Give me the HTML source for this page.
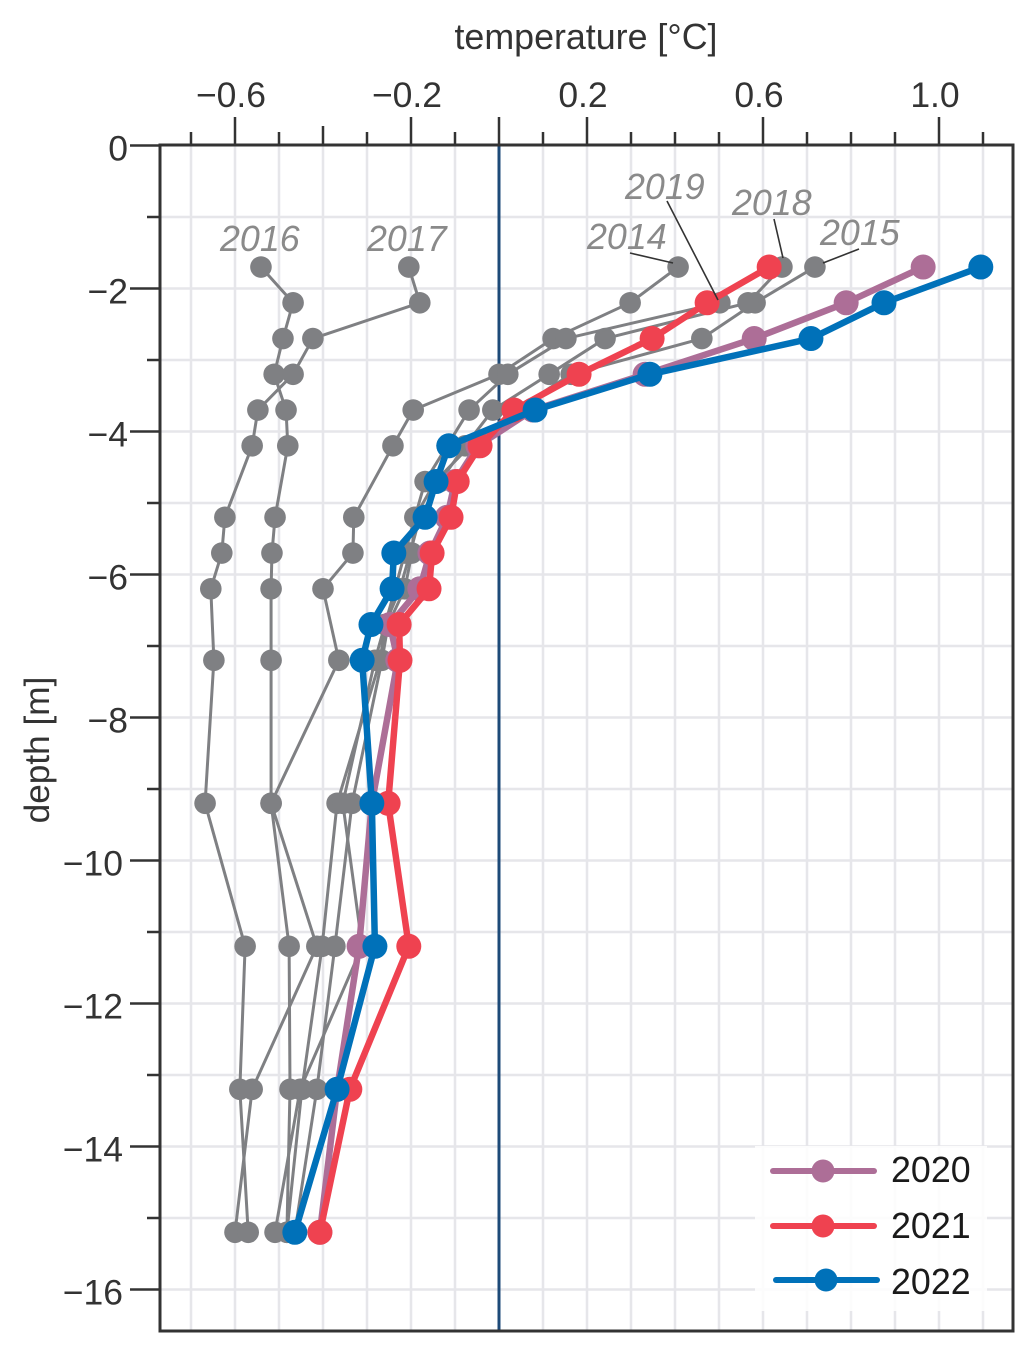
<!DOCTYPE html>
<html>
<head>
<meta charset="utf-8">
<title>Temperature by depth</title>
<style>
html,body{margin:0;padding:0;background:#fff}
svg{display:block}
text{font-family:"Liberation Sans",sans-serif}
</style>
</head>
<body>
<svg id="chart" xmlns="http://www.w3.org/2000/svg" width="1033" height="1353" viewBox="0 0 1033 1353">
  <rect x="0" y="0" width="1033" height="1353" fill="#fff"/>
  <g id="grid"></g>
  <line id="zero" stroke="#1d4a78" stroke-width="3"/>
  <g id="series"></g>
  <g id="axes"></g>
  <text x="586" y="49" text-anchor="middle" font-size="35.8" fill="#333">temperature [°C]</text>
  <text transform="translate(49,750) rotate(-90)" text-anchor="middle" font-size="35.2" fill="#333">depth [m]</text>
  <g font-size="35.8" font-style="italic" fill="#8a8a8a">
    <text x="220" y="251">2016</text>
    <text x="367" y="251">2017</text>
    <text x="587" y="249">2014</text>
    <text x="625" y="199">2019</text>
    <text x="732" y="215">2018</text>
    <text x="820" y="245">2015</text>
  </g>
  <g stroke="#333" stroke-width="1.6">
    <line x1="630" y1="253" x2="673" y2="263"/>
    <line x1="667" y1="201" x2="718" y2="300"/>
    <line x1="774" y1="219" x2="783" y2="258"/>
    <line x1="859" y1="249" x2="823" y2="263"/>
  </g>
  <g>
    <rect x="755" y="1146" width="232" height="165" fill="#fff" fill-opacity="0.85"/>
    <g>
      <line x1="773" y1="1171" x2="874" y2="1171" stroke="#ad6e97" stroke-width="6" stroke-linecap="round"/>
      <circle cx="823" cy="1171" r="11.5" fill="#ad6e97"/>
      <text x="891" y="1182" font-size="35.8" fill="#1a1a1a">2020</text>
    </g>
    <g>
      <line x1="773" y1="1226" x2="874" y2="1226" stroke="#ef4250" stroke-width="6" stroke-linecap="round"/>
      <circle cx="823" cy="1226" r="11.5" fill="#ef4250"/>
      <text x="891" y="1238" font-size="35.8" fill="#1a1a1a">2021</text>
    </g>
    <g>
      <line x1="776" y1="1280" x2="877" y2="1280" stroke="#0071b9" stroke-width="6" stroke-linecap="round"/>
      <circle cx="826" cy="1280" r="11.5" fill="#0071b9"/>
      <text x="891" y="1294" font-size="35.8" fill="#1a1a1a">2022</text>
    </g>
  </g>
</svg>
<script>
// Depth of each sensor level [m]
const depths = [1.7, 2.2, 2.7, 3.2, 3.7, 4.2, 4.7, 5.2, 5.7, 6.2, 6.7, 7.2, 9.2, 11.2, 13.2, 15.2];
// Temperature [deg C] per year at each depth (null = no reading)
const temps2014 = [0.407, 0.298, 0.123, 0.000, -0.195, -0.241, null, -0.330, -0.332, -0.400, null, -0.364, -0.518, -0.414, -0.561, -0.600];
const temps2015 = [0.718, 0.582, 0.461, 0.164, 0.036, -0.066, -0.145, -0.191, -0.214, -0.236, -0.259, -0.270, -0.368, -0.402, -0.448, -0.482];
const temps2016 = [-0.541, -0.468, -0.491, -0.511, -0.484, -0.480, null, -0.509, -0.516, -0.518, null, -0.518, -0.518, -0.477, -0.475, -0.482];
const temps2017 = [-0.205, -0.180, -0.423, -0.468, -0.548, -0.561, null, -0.623, -0.630, -0.655, null, -0.648, -0.668, -0.577, -0.589, -0.570];
const temps2018 = [0.643, 0.566, 0.241, 0.114, -0.014, -0.077, -0.134, -0.180, -0.202, -0.225, -0.259, -0.282, -0.355, -0.311, -0.452, -0.509];
const temps2019 = [null, 0.502, 0.152, 0.020, -0.068, -0.118, -0.168, -0.191, -0.198, -0.214, -0.252, -0.266, -0.334, -0.373, -0.414, -0.464];
const temps2020 = [0.964, 0.789, 0.580, 0.332, 0.077, -0.048, -0.100, -0.118, -0.157, -0.180, -0.248, -0.230, -0.289, -0.318, -0.368, -0.407];
const temps2021 = [0.614, 0.473, 0.348, 0.182, 0.034, -0.043, -0.095, -0.109, -0.152, -0.159, -0.227, -0.225, -0.252, -0.205, -0.339, -0.407];
const temps2022 = [1.095, 0.875, 0.709, 0.343, 0.082, -0.114, -0.143, -0.168, -0.239, -0.243, -0.291, -0.311, -0.289, -0.282, -0.368, -0.464];
const xTickLabels = [-0.6, -0.2, 0.2, 0.6, 1.0];
const yTickLabels = [0, -2, -4, -6, -8, -10, -12, -14, -16];
const xGridTicks = [-0.7, -0.6, -0.5, -0.4, -0.3, -0.2, -0.1, 0, 0.1, 0.2, 0.3, 0.4, 0.5, 0.6, 0.7, 0.8, 0.9, 1.0, 1.1];
const yGridTicks = [-1, -2, -3, -4, -5, -6, -7, -8, -9, -10, -11, -12, -13, -14, -15, -16];

const NS = 'http://www.w3.org/2000/svg';
const frame = {left: 160, right: 1013, top: 145, bottom: 1331};
function xScale(t) { return 499 + t * 440; }
function yScale(d) { return 145.5 + d * 71.5; }
function make(tag, attrs, parent) {
  const el = document.createElementNS(NS, tag);
  for (const k in attrs) el.setAttribute(k, attrs[k]);
  parent.appendChild(el);
  return el;
}
function fmtMinus(v, digits) {
  const s = Math.abs(v).toFixed(digits);
  return v < 0 ? '\u2212' + s : s;
}

const grid = document.getElementById('grid');
const axes = document.getElementById('axes');
const seriesGroup = document.getElementById('series');

xGridTicks.forEach(function (t) {
  const x = xScale(t);
  const g = make('line', {x1: x, x2: x, y1: frame.top, y2: frame.bottom, stroke: '#e6e6ea', 'stroke-width': 2.5}, grid);
  
  
  const isLong = xTickLabels.some(function (v) { return Math.abs(v - t) < 1e-6; }) || Math.abs(t) < 1e-6;
  const isMid = Math.abs(t + 0.4) < 1e-6;
  const top = isLong ? 117 : (isMid ? 126 : 132);
  const tk = make('line', {x1: x, x2: x, y1: top, y2: frame.top, stroke: '#333', 'stroke-width': 2.5}, axes);
  
  
});

yGridTicks.forEach(function (d) {
  const y = yScale(-d);
  const g = make('line', {x1: frame.left, x2: frame.right, y1: y, y2: y, stroke: '#e6e6ea', 'stroke-width': 2.5}, grid);
  
  
});

[0].concat(yGridTicks).forEach(function (d) {
  const y = yScale(-d);
  const isLong = d % 2 === 0;
  const tk = make('line', {x1: isLong ? 130 : 147, x2: frame.left, y1: y, y2: y, stroke: '#333', 'stroke-width': 2.5}, axes);
  
  
});

const zero = document.getElementById('zero');
zero.setAttribute('x1', xScale(0));
zero.setAttribute('x2', xScale(0));
zero.setAttribute('y1', frame.top);
zero.setAttribute('y2', frame.bottom);

const plotFrame = make('rect', {x: frame.left, y: frame.top, width: frame.right - frame.left, height: frame.bottom - frame.top, fill: 'none', stroke: '#333', 'stroke-width': 3}, axes);



xTickLabels.forEach(function (v) {
  const t = make('text', {x: xScale(v) - 4, y: 107, 'text-anchor': 'middle', 'font-size': 35.5, fill: '#333'}, axes);
  t.textContent = fmtMinus(v, 1);
  
  
});
yTickLabels.forEach(function (v) {
  const t = make('text', {x: Math.abs(v) >= 10 ? 123 : 128, y: yScale(-v) + 15, 'text-anchor': 'end', 'font-size': 35.5, fill: '#333'}, axes);
  t.textContent = fmtMinus(v, 0);
  
  
});

function drawSeries(name, values, color, width, radius) {
  const g = make('g', {}, seriesGroup);
  
  
  const pts = [];
  values.forEach(function (v, i) {
    if (v !== null) pts.push([xScale(v), yScale(depths[i])]);
  });
  const line = make('polyline', {points: pts.map(function (p) { return p.join(','); }).join(' '), fill: 'none', stroke: color, 'stroke-width': width, 'stroke-linejoin': 'round'}, g);
  
  
  pts.forEach(function (p) {
    const c = make('circle', {cx: p[0], cy: p[1], r: radius, fill: color}, g);
    
    
  });
}

const gray = '#7f8083';
drawSeries('2014', temps2014, gray, 3, 10.8);
drawSeries('2015', temps2015, gray, 3, 10.8);
drawSeries('2016', temps2016, gray, 3, 10.8);
drawSeries('2017', temps2017, gray, 3, 10.8);
drawSeries('2018', temps2018, gray, 3, 10.8);
drawSeries('2019', temps2019, gray, 3, 10.8);
drawSeries('2020', temps2020, '#ad6e97', 6.5, 12.5);
drawSeries('2021', temps2021, '#ef4250', 6.5, 12.5);
drawSeries('2022', temps2022, '#0071b9', 6.5, 12.5);
</script>
</body>
</html>
